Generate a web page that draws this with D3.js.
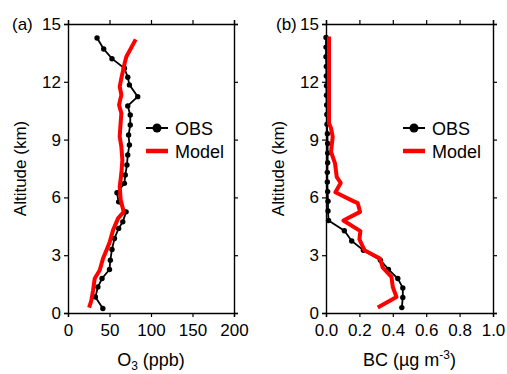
<!DOCTYPE html>
<html>
<head>
<meta charset="utf-8">
<script src="https://cdn.jsdelivr.net/npm/d3@7"></script>
<style>
  body { margin: 0; background: #fff; }
  text { font-family: Arial, "Liberation Sans", sans-serif; fill: #000; }
</style>
</head>
<body>
<div id="chart"></div>
<script>
// ---- data ----
var altTicks = [0, 3, 6, 9, 12, 15];
var o3Ticks = [0, 50, 100, 150, 200];
var bcTicks = [0, 0.2, 0.4, 0.6, 0.8, 1.0];

var obsO3Alt = [14.27, 13.7, 13.2, 12.7, 12.24, 11.84, 11.23, 10.75, 10.28, 9.76, 9.24, 8.72, 8.2, 7.68, 7.16, 6.73, 6.24, 5.77, 5.25, 4.73, 4.39, 3.87, 3.3, 2.74, 2.26, 1.79, 1.35, 0.83, 0.23];
var obsO3 = [35, 43, 53, 68, 72, 74, 84, 72, 75, 75, 73, 74, 72, 71, 69, 68, 59, 61, 70, 66, 61, 56, 53, 51, 50, 41, 36, 33, 42];

var modO3Alt = [14.2, 13.3, 12.97, 12.19, 11.75, 11.32, 10.8, 10.37, 9.67, 9.15, 8.63, 7.94, 7.25, 6.55, 5.86, 5.25, 4.91, 4.3, 3.69, 3.26, 2.83, 2.22, 1.79, 1.18, 0.66, 0.28];
var modO3 = [81.6, 70.3, 68.3, 64.3, 62.3, 64.3, 61.5, 64.3, 63.1, 62.3, 64.3, 65.5, 64.3, 62.3, 63.5, 67.1, 60.3, 54.3, 50.3, 46.3, 42.2, 38.2, 32.2, 30.2, 28.2, 25.4];

var obsBCAlt = [14.3, 13.8, 13.3, 12.8, 12.3, 11.8, 11.3, 10.8, 10.3, 9.8, 9.3, 8.8, 8.3, 7.8, 7.3, 6.8, 6.3, 5.8, 5.3, 4.8, 4.27, 3.74, 3.26, 2.74, 2.26, 1.79, 1.3, 0.81, 0.28];
var obsBC = [0.0, 0.0, 0.0, 0.002, 0.002, 0.003, 0.003, 0.004, 0.005, 0.006, 0.008, 0.01, 0.01, 0.01, 0.008, 0.008, 0.01, 0.012, 0.012, 0.015, 0.11, 0.154, 0.224, 0.326, 0.374, 0.43, 0.46, 0.46, 0.454];

var modBCAlt = [14.35, 9.85, 9.6, 9.15, 8.37, 7.77, 7.07, 6.75, 6.27, 5.82, 5.7, 5.25, 4.8, 4.25, 3.83, 3.26, 2.83, 2.35, 1.87, 1.35, 0.83, 0.28];
var modBC = [0.018, 0.018, 0.03, 0.04, 0.03, 0.054, 0.064, 0.088, 0.056, 0.16, 0.19, 0.204, 0.104, 0.206, 0.2, 0.23, 0.323, 0.34, 0.392, 0.4, 0.422, 0.31];

var W = 507, H = 374;
var plotTop = 24, plotBottom = 313;

var svg = d3.select("#chart").append("svg")
  .attr("width", W)
  .attr("height", H);

function zip(xs, ys) {
  return xs.map(function (v, i) { return { x: v, y: ys[i] }; });
}

function panel(opt) {
  var x = d3.scaleLinear().domain(opt.xDomain).range([opt.left, opt.right]);
  var y = d3.scaleLinear().domain([0, 15]).range([plotBottom, plotTop]);

  var g = svg.append("g");

  // axes, ticks pointing outward on all four sides
  g.append("g")
    .attr("transform", "translate(0," + plotBottom + ")")
    .call(d3.axisBottom(x).tickValues(opt.ticks).tickFormat(opt.fmt).tickSize(4).tickPadding(7));
  g.append("g")
    .attr("transform", "translate(0," + plotTop + ")")
    .call(d3.axisTop(x).tickValues(opt.ticks).tickFormat("").tickSize(4));
  g.append("g")
    .attr("transform", "translate(" + opt.left + ",0)")
    .call(d3.axisLeft(y).tickValues(altTicks).tickSize(4).tickPadding(3));
  g.append("g")
    .attr("transform", "translate(" + opt.right + ",0)")
    .call(d3.axisRight(y).tickValues(altTicks).tickFormat("").tickSize(4));

  g.selectAll(".domain").attr("stroke", "#000").attr("stroke-width", 1.4);
  g.selectAll(".tick line").attr("stroke", "#000").attr("stroke-width", 1.2);
  g.selectAll(".tick text").style("font-size", "17px").style("font-family", "Arial, 'Liberation Sans', sans-serif");

  var line = d3.line()
    .x(function (d) { return x(d.x); })
    .y(function (d) { return y(d.y); });

  var obs = zip(opt.obs, opt.obsAlt);
  var mod = zip(opt.mod, opt.modAlt);

  g.append("path")
    .datum(obs)
    .attr("d", line)
    .attr("fill", "none")
    .attr("stroke", "#000")
    .attr("stroke-width", 1.8);

  g.selectAll(".dot")
    .data(obs)
    .enter().append("circle")
    .attr("cx", function (d) { return x(d.x); })
    .attr("cy", function (d) { return y(d.y); })
    .attr("r", 2.7)
    .attr("fill", "#000");

  g.append("path")
    .datum(mod)
    .attr("d", line)
    .attr("fill", "none")
    .attr("stroke", "#ff0000")
    .attr("stroke-width", 4)
    .attr("stroke-linejoin", "round");

  // legend
  var lx = opt.legendX;
  g.append("line").attr("x1", lx).attr("x2", lx + 22).attr("y1", 128).attr("y2", 128)
    .attr("stroke", "#000").attr("stroke-width", 2);
  g.append("circle").attr("cx", lx + 11).attr("cy", 128).attr("r", 4.5).attr("fill", "#000");
  g.append("text").attr("x", lx + 29).attr("y", 134.5).style("font-size", "18px").text("OBS");
  g.append("line").attr("x1", lx).attr("x2", lx + 22).attr("y1", 151).attr("y2", 151)
    .attr("stroke", "#ff0000").attr("stroke-width", 4.5);
  g.append("text").attr("x", lx + 29).attr("y", 157.5).style("font-size", "18px").text("Model");

  // panel label
  g.append("text").attr("x", opt.labelX).attr("y", 30).style("font-size", "17px").text(opt.label);

  // y title
  g.append("text")
    .attr("transform", "translate(" + opt.yTitleX + "," + ((plotTop + plotBottom) / 2) + ") rotate(-90)")
    .attr("text-anchor", "middle")
    .style("font-size", "17px")
    .text("Altitude (km)");

  // x title
  var t = g.append("text")
    .attr("x", (opt.left + opt.right) / 2)
    .attr("y", 366)
    .attr("text-anchor", "middle")
    .style("font-size", "18px");
  opt.xTitle(t);
}

panel({
  left: 68, right: 234, xDomain: [0, 200], ticks: o3Ticks, fmt: d3.format("d"),
  obs: obsO3, obsAlt: obsO3Alt, mod: modO3, modAlt: modO3Alt,
  legendX: 146, label: "(a)", labelX: 12, yTitleX: 26,
  xTitle: function (t) {
    t.append("tspan").text("O");
    t.append("tspan").attr("dy", 4).style("font-size", "12px").text("3");
    t.append("tspan").attr("dy", -4).text(" (ppb)");
  }
});

panel({
  left: 326, right: 493, xDomain: [0, 1], ticks: bcTicks, fmt: d3.format(".1f"),
  obs: obsBC, obsAlt: obsBCAlt, mod: modBC, modAlt: modBCAlt,
  legendX: 403, label: "(b)", labelX: 276, yTitleX: 284,
  xTitle: function (t) {
    t.append("tspan").text("BC (\u00b5g m");
    t.append("tspan").attr("dy", -7).style("font-size", "12px").text("-3");
    t.append("tspan").attr("dy", 7).text(")");
  }
});
</script>
</body>
</html>
